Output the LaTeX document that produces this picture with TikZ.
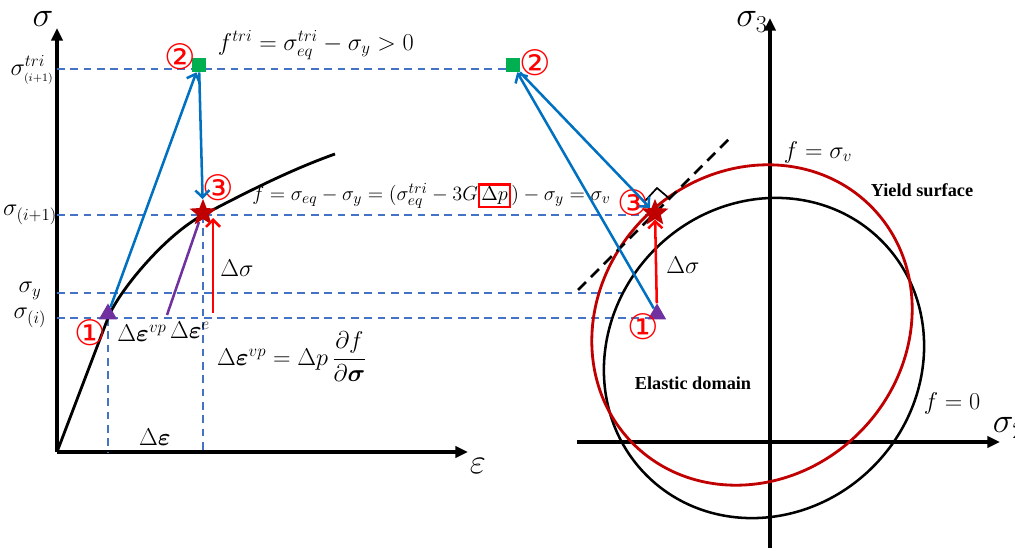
\documentclass[tikz,border=0pt]{standalone}
\usepackage{amsmath}
\usepackage{amssymb}
\usepackage{bm}
\usepackage{fontspec}
\setmainfont{Liberation Serif}
\newfontfamily\circfont{DejaVu Sans}
\usetikzlibrary{shapes.geometric, arrows.meta}
\definecolor{guideBlue}{HTML}{4472C4}
\definecolor{flowBlue}{HTML}{0070C0}
\definecolor{starRed}{HTML}{C00000}
\definecolor{markGreen}{HTML}{00B050}
\definecolor{pointPurple}{HTML}{7030A0}
\newcommand{\lbl}{\fontsize{17}{20}\selectfont}
\setlength{\fboxrule}{1.5pt}
\setlength{\fboxsep}{1pt}

\begin{document}
\begin{tikzpicture}[x=0.025cm, y=-0.025cm,
    axis/.style={line width=2.2pt, -{Triangle[length=9pt, width=8pt]}},
    guide/.style={guideBlue, line width=1.2pt, dash pattern=on 5.5pt off 4pt},
    flow/.style={flowBlue, line width=1.8pt, -{Straight Barb[length=5pt, width=10pt]}},
    dsig/.style={red, line width=1.8pt, -{Straight Barb[length=5pt, width=10pt]}},
    num/.style={text=red, font=\circfont\fontsize{25}{25}\selectfont, inner sep=0pt},
    trimark/.style={regular polygon, regular polygon sides=3, fill=pointPurple, minimum size=15pt, inner sep=0pt},
    sqmark/.style={rectangle, fill=markGreen, minimum size=10pt, inner sep=0pt},
    starmark/.style={star, star points=5, star point ratio=2.3, fill=starRed, minimum size=20pt, inner sep=0pt}]
    \useasboundingbox (0,0) rectangle (1015,551);

    % stress-strain plane
    \draw[axis] (57,452) -- (468,452);
    \draw[axis] (57,452) -- (57,28);
    \node[font=\fontsize{24}{24}\selectfont] (sig) at (43,19) {$\sigma$};
    \node[font=\fontsize{24}{24}\selectfont] (eps) at (478,466) {$\varepsilon$};

    \draw[guide] (57,69) -- (510,69);
    \draw[guide] (57,215) -- (650,215);
    \draw[guide] (57,293) -- (623,293);
    \draw[guide] (57,318) -- (650,318);
    \draw[guide] (108,318) -- (108,452);
    \draw[guide] (203,215) -- (203,452);

    \node[font=\lbl] (ltri) at (32,70) {$\sigma^{tri}_{\scriptscriptstyle (i+1)}$};
    \node[font=\lbl] (lnext) at (30,215) {$\sigma_{(i+1)}$};
    \node[font=\lbl] (ly) at (30,291) {$\sigma_{y}$};
    \node[font=\lbl] (lcur) at (30,318) {$\sigma_{(i)}$};

    \draw[line width=2pt] (57,452) -- (108,318)
        .. controls (118,292) and (165,235) .. (203,215)
        .. controls (245,193) and (290,170) .. (335,154);
    \draw[pointPurple, line width=1.8pt] (167,315) -- (199,222);

    \node[trimark] (p1L) at (108,314) {};
    \node[sqmark] (p2L) at (199,65) {};
    \node[starmark] (p3L) at (203,213) {};
    \node[num] at (90,333) {①};
    \node[num] at (180,57) {②};
    \node[num] at (218,188) {③};

    \draw[flow] (p1L) -- (p2L);
    \draw[flow] (p2L) -- (p3L);
    \coordinate (dsA) at (213,313);
    \coordinate (dsB) at (213,218);
    \draw[dsig] (dsA) -- (dsB);

    \node[font=\lbl] at (237,268) {$\Delta\sigma$};
    \node[font=\lbl] at (142,333) {$\Delta\bm{\varepsilon}^{vp}$};
    \node[font=\lbl] at (190,330) {$\Delta\bm{\varepsilon}^{e}$};
    \node[font=\lbl] at (155,437) {$\Delta\bm{\varepsilon}$};
    \node[font=\lbl, anchor=west] at (213,45) {$f^{tri}=\sigma^{tri}_{eq}-\sigma_{y}>0$};
    \node[font=\fontsize{15.5}{18}\selectfont, anchor=west, inner sep=0pt] at (252,196)
        {$f=\sigma_{eq}-\sigma_{y}=(\sigma^{tri}_{eq}-3G\fcolorbox{red}{white}{$\Delta p$})-\sigma_{y}=\sigma_{v}$};
    \node[font=\lbl] at (292,357) {$\Delta\bm{\varepsilon}^{vp}=\Delta p\,\dfrac{\partial f}{\partial\bm{\sigma}}$};

    % principal stress plane
    \draw[axis] (577,442) -- (1000,442);
    \draw[axis] (770,548) -- (770,18);
    \node[font=\fontsize{24}{24}\selectfont] (s3) at (752,22) {$\sigma_3$};
    \node[font=\fontsize{24}{24}\selectfont, anchor=west] (s2) at (988,428) {$\sigma_2$};

    \draw[line width=1.8pt, rotate around={45:(764,358)}] (764,358) ellipse [x radius=166, y radius=154];
    \draw[starRed, line width=2pt, rotate around={45:(752,325)}] (752,325) ellipse [x radius=168, y radius=152];

    \coordinate (tanA) at (578,290);
    \coordinate (tanB) at (733,135);
    \draw[line width=2pt, dash pattern=on 8pt off 5pt] (tanA) -- (tanB);
    \draw[line width=1.2pt] (645,201) -- (657,188) -- (670,199);

    \node[trimark] (p1R) at (657,314) {};
    \node[sqmark] (p2R) at (513,65) {};
    \node[starmark] (p3R) at (655,213) {};
    \node[num] at (643,327) {①};
    \node[num] at (535,63) {②};
    \node[num] at (633,203) {③};

    \draw[flow] (p1R) -- (p2R);
    \draw[flow] (p2R) -- (p3R);
    \draw[dsig] (p1R) -- (p3R);

    \node[font=\lbl] at (683,265) {$\Delta\sigma$};
    \node[font=\lbl] at (818,152) {$f=\sigma_{v}$};
    \node[font=\lbl] at (952,403) {$f=0$};
    \node[font=\bfseries\fontsize{13}{15}\selectfont] at (922,190) {Yield surface};
    \node[font=\bfseries\fontsize{13}{15}\selectfont] at (693,383) {Elastic domain};
\end{tikzpicture}
\end{document}
